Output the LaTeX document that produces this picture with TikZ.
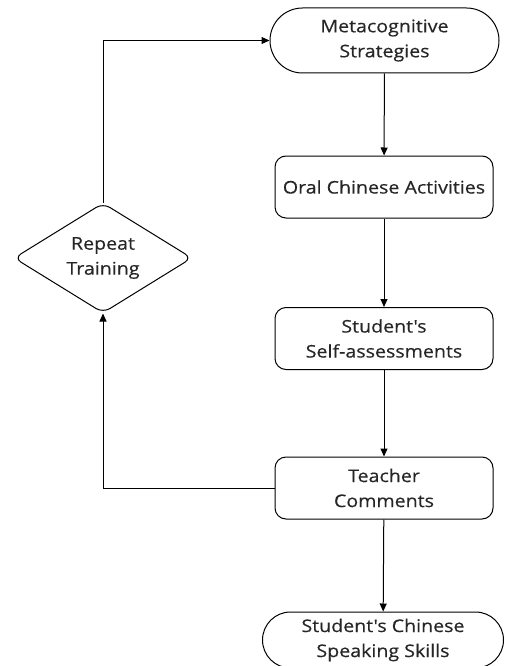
\documentclass[tikz,border=0pt]{standalone}
\usepackage{fontspec}
\setmainfont{Open Sans}[FakeStretch=1.12, FakeBold=0.4, Ligatures=TeXOff]
\usetikzlibrary{shapes.geometric,shapes.misc,arrows.meta}
\begin{document}
\begin{tikzpicture}[x=1pt,y=-1pt,
  every node/.style={font=\fontsize{17.5}{25}\selectfont, text=black!85, align=center, inner sep=0pt},
  pill/.style={draw, line width=1pt, rounded rectangle, minimum width=229pt, minimum height=65pt},
  box/.style={draw, line width=1pt, rounded corners=11pt, minimum width=218pt, minimum height=62pt},
  dia/.style={draw, line width=1pt, diamond, rounded corners=8pt, minimum width=178pt, minimum height=110pt, aspect=1.6},
  arr/.style={line width=1pt, -{Triangle[length=8pt,width=7pt]}}]
\useasboundingbox (0,0) rectangle (505,666);
\node[pill] (meta) at (384.5,40.5) {Metacognitive\\Strategies};
\node[box] (oral) at (384,187) {Oral Chinese Activities};
\node[box] (self) at (384,338.5) {Student's\\Self-assessments};
\node[box] (teach) at (384,488) {Teacher\\Comments};
\node[pill, minimum width=241pt, minimum height=56pt] (skill) at (383,640) {Student's Chinese\\Speaking Skills};
\node[dia] (rep) at (103,258) {Repeat\\Training};
\draw[arr] (meta) -- (oral);
\draw[arr] (oral) -- (self);
\draw[arr] (self) -- (teach);
\draw[arr] (teach) -- (skill);
\coordinate (c1) at (103,488);
\coordinate (c2) at (103,40.5);
\draw[arr] (teach.west) -- (c1) -- (rep.south);
\draw[arr] (rep.north) -- (c2) -- (meta.west);
\end{tikzpicture}
\end{document}
